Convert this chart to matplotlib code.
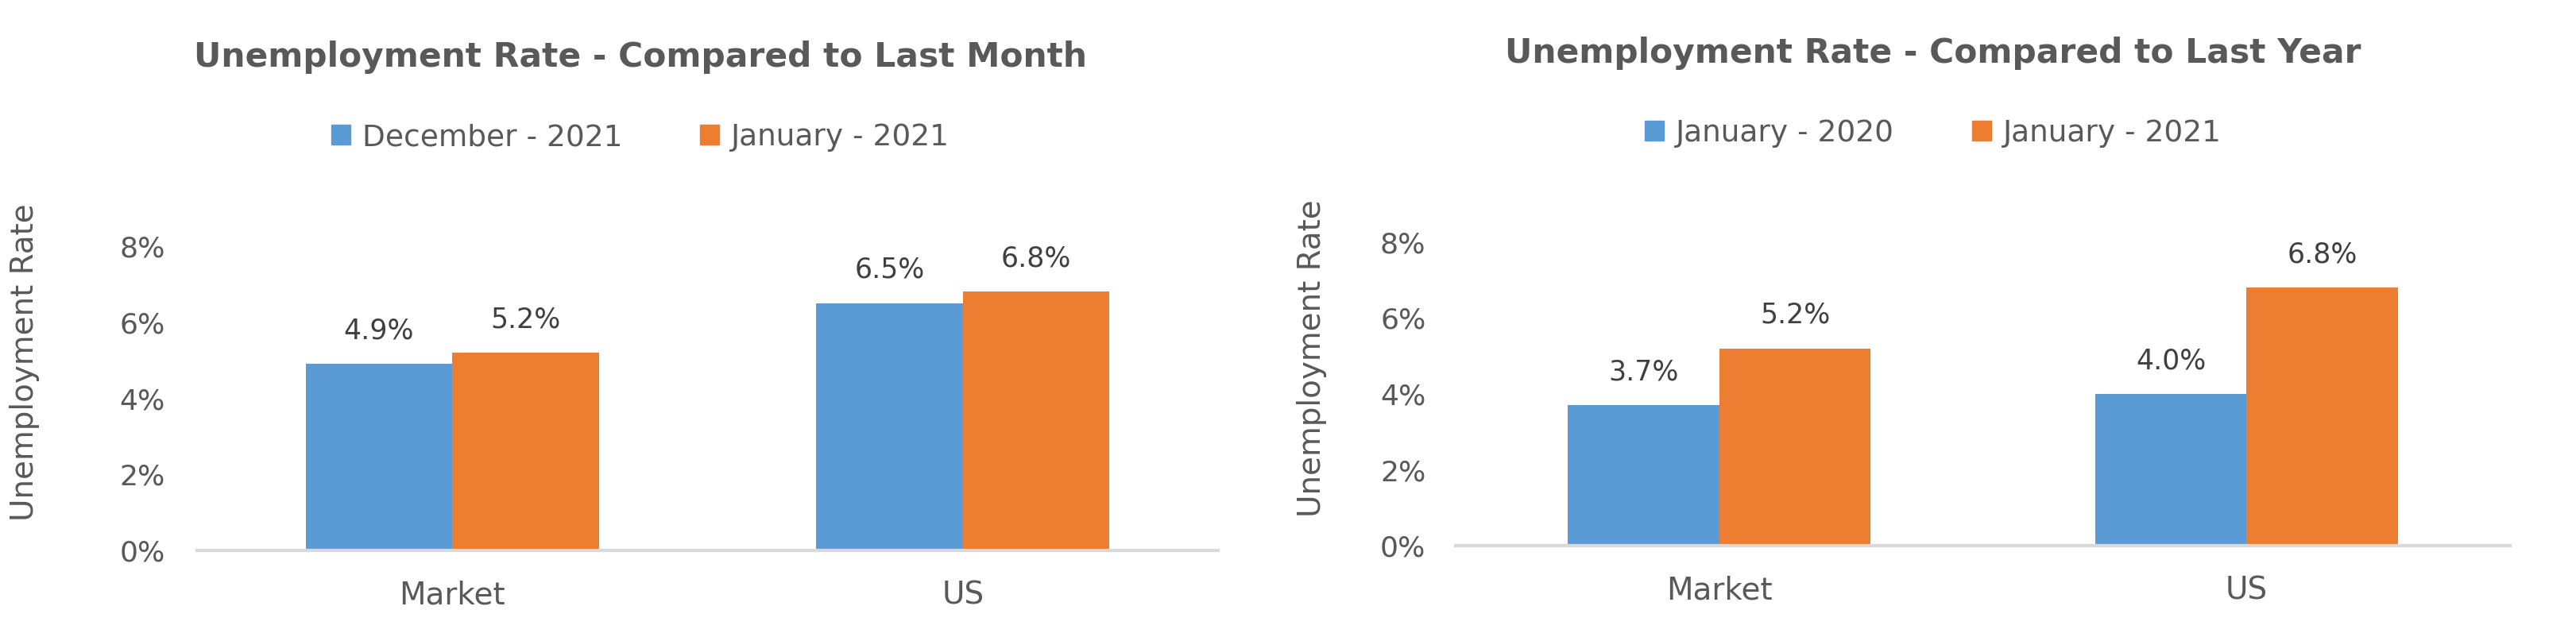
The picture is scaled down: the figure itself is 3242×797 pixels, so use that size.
import matplotlib.pyplot as plt
from matplotlib.patches import Patch
import numpy as np

categories = ['Market', 'US']
yticks = [0, 2, 4, 6, 8]

month_labels = ['December - 2021', 'January - 2021']
month_prev = [4.9, 6.5]
month_curr = [5.2, 6.8]

year_labels = ['January - 2020', 'January - 2021']
year_prev = [3.7, 4.0]
year_curr = [5.2, 6.8]

BLUE = '#5B9BD5'
ORANGE = '#ED7D31'
GREY = '#595959'
DARK = '#404040'

plt.rcParams['font.family'] = ['DejaVu Sans']

fig = plt.figure(figsize=(32.42, 7.97), dpi=100)
W, H = 3242, 797


def px_axes(x0, y_top, x1, y_bot):
    return fig.add_axes([x0 / W, 1 - y_bot / H, (x1 - x0) / W, (y_bot - y_top) / H])


def draw(ax, prev, curr, labels, title, cx, title_y, legend_y, ylab_x, ylab_y, pad):
    x = np.arange(len(categories))
    w = 0.287
    b1 = ax.bar(x - w / 2, prev, w, color=BLUE)
    b2 = ax.bar(x + w / 2, curr, w, color=ORANGE)
    for bars, vals in ((b1, prev), (b2, curr)):
        for rect, v in zip(bars, vals):
            ax.annotate(f'{v:.1f}%', (rect.get_x() + rect.get_width() / 2, v),
                        xytext=(0, 23), textcoords='offset points',
                        ha='center', va='baseline', fontsize=25, color=DARK,
                        annotation_clip=False)
    ax.set_xlim(-0.5, len(categories) - 0.5)
    ax.set_ylim(0, 8)
    ax.set_xticks(x)
    ax.set_xticklabels(categories)
    ax.set_yticks(yticks)
    ax.set_yticklabels([f'{t}%' for t in yticks])
    ax.tick_params(axis='x', length=0, pad=27, labelsize=28, labelcolor=GREY)
    ax.tick_params(axis='y', length=0, pad=pad, labelsize=26, labelcolor=GREY)
    for s in ('top', 'right', 'left'):
        ax.spines[s].set_visible(False)
    ax.spines['bottom'].set_color('#D9D9D9')
    ax.spines['bottom'].set_linewidth(3)

    fig.text(cx / W, 1 - title_y / H, title, ha='center', va='center',
             fontsize=30.5, fontweight='bold', color=GREY)
    handles = [Patch(color=BLUE, label=labels[0]), Patch(color=ORANGE, label=labels[1])]
    fig.legend(handles=handles, loc='center', bbox_to_anchor=(cx / W, 1 - legend_y / H),
               ncol=2, frameon=False, fontsize=27, labelcolor=GREY,
               handlelength=0.65, handleheight=0.65, handletextpad=0.4, columnspacing=2.6)
    fig.text(ylab_x / W, 1 - ylab_y / H, 'Unemployment Rate', rotation=90,
             ha='center', va='center', fontsize=28, color=GREY)


ax1 = px_axes(248, 310, 1533, 693)
draw(ax1, month_prev, month_curr, month_labels,
     'Unemployment Rate - Compared to Last Month', 806, 72, 173, 31, 456, 29)

ax2 = px_axes(1832, 305, 3159, 687)
draw(ax2, year_prev, year_curr, year_labels,
     'Unemployment Rate - Compared to Last Year', 2433, 67, 168, 1651, 451, 27)

fig.savefig('out.png', dpi=100)
